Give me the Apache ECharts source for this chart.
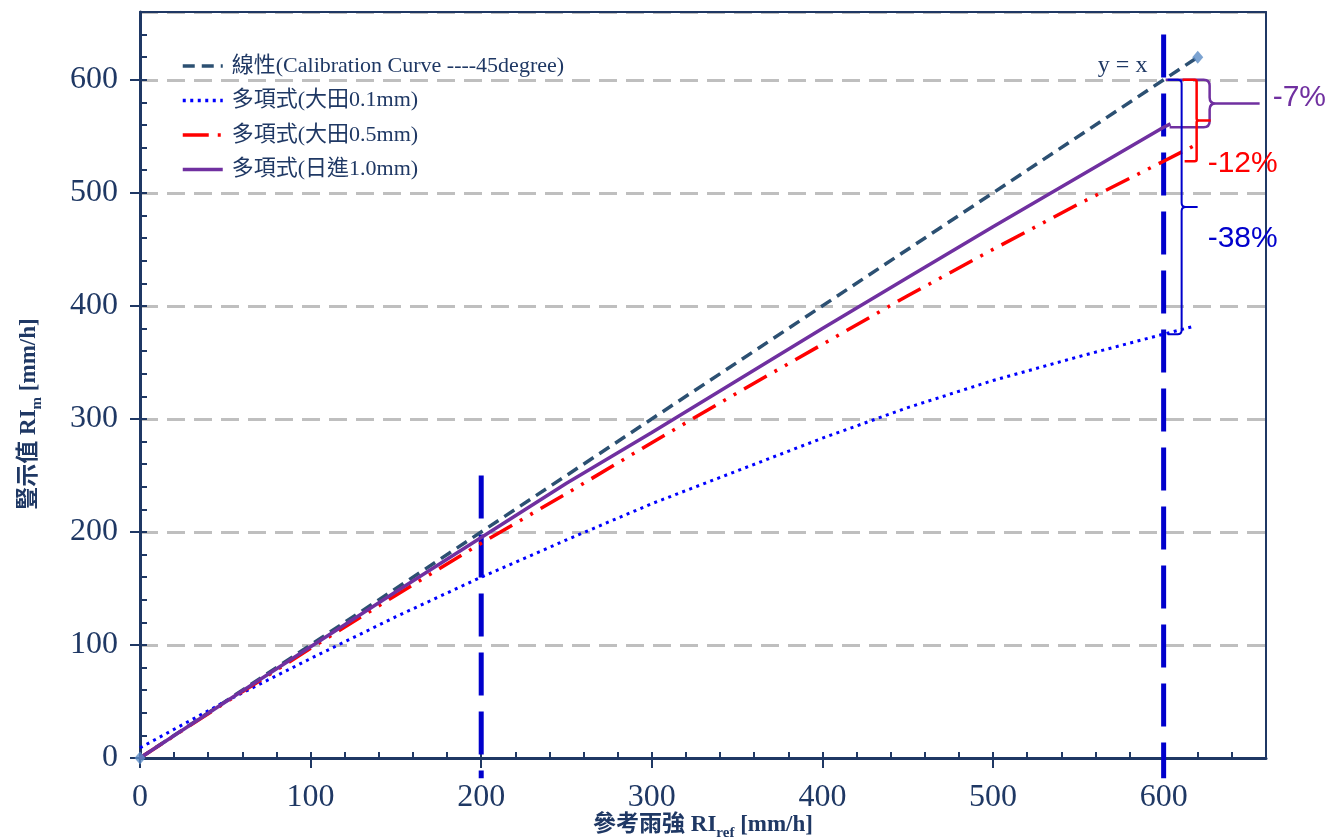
<!DOCTYPE html>
<html>
<head>
<meta charset="utf-8">
<script src="https://cdn.jsdelivr.net/npm/echarts@6/dist/echarts.min.js"></script>
<style>
html,body{margin:0;padding:0;background:#fff;}
#chart{width:1328px;height:837px;}
</style>
</head>
<body>
<div id="chart"></div>
<script>
// ---- data ----
const seriesNames = [
  '線性(Calibration Curve ----45degree)',
  '多項式(大田0.1mm)',
  '多項式(大田0.5mm)',
  '多項式(日進1.0mm)'
];
const calibX = [0, 620];
const calibY = [0, 620];
const ohta01X = [0, 50, 100, 150, 200, 250, 300, 350, 400, 450, 500, 550, 600, 618];
const ohta01Y = [9, 50, 88, 125, 160, 193, 225, 254, 283, 310, 334, 355, 375, 382];
const ohta05X = [0, 50, 100, 150, 200, 250, 300, 350, 400, 450, 500, 550, 600, 617];
const ohta05Y = [0, 49, 97, 144, 190, 234, 279, 323, 366, 409, 450, 490, 528, 541];
const nisshinX = [0, 50, 100, 150, 200, 250, 300, 350, 400, 450, 500, 550, 600, 604];
const nisshinY = [0, 49.5, 98.5, 147, 195, 243, 288, 334, 380, 425, 470, 514, 558, 561];
const refLineX = [200, 600];          // vertical reference lines
const refLineTop = [250, 640];
const refLineBottom = -18;
const bracketX = 600;
const bracketTop = 600;
const bracketBottom = [558, 528, 375];
const bracketLabel = ['-7%', '-12%', '-38%'];
const axisMax = 660;

// ---- styles ----
const navy = '#1f3864';
const serif = '"Liberation Serif", "Times New Roman", "Noto Sans CJK TC", serif';
const sans = '"Liberation Sans", Arial, sans-serif';
const braceStyle = [
  {color: '#7030a0', a1: 2, a2: 6, vx: 46, tip: 96, r: 6, lw: 2.5, tx: 109, tyRef: 'mid', tdy: -6},
  {color: '#ff0000', a1: 19, a2: 21, vx: 33, tip: 47, r: 2, lw: 2.5, tx: 44, tyRef: 'bot', tdy: 3},
  {color: '#0000cc', a1: 4, a2: 4, vx: 18, tip: 34, r: 4, lw: 2, tx: 44, tyRef: 'mid', tdy: 32}
];

function zip(xs, ys) { return xs.map((x, i) => [x, ys[i]]); }

const chart = echarts.init(document.getElementById('chart'), null, {renderer: 'canvas'});

const baseAxis = {
  type: 'value', min: 0, max: axisMax, interval: 100
};
const nameRich = {
  a: {fontFamily: serif, fontSize: 23, fontWeight: 'bold', color: navy, verticalAlign: 'bottom'},
  s: {fontFamily: serif, fontSize: 15, fontWeight: 'bold', color: navy, verticalAlign: 'bottom', padding: [0, 0, -4, 0]}
};

const option = {
  backgroundColor: '#fff',
  animation: false,
  grid: {left: 140, right: 62, top: 12, bottom: 79, containLabel: false, outerBoundsMode: 'none'},
  legend: {
    orient: 'vertical', left: 181, top: 55, padding: 0,
    itemWidth: 40, itemHeight: 14, itemGap: 12.5,
    data: seriesNames,
    itemStyle: {color: 'rgba(0,0,0,0)', borderWidth: 0, opacity: 0},
    lineStyle: {width: 3.5},
    textStyle: {color: navy, fontFamily: serif, fontSize: 22, lineHeight: 22, padding: [0, 0, 0, 4]}
  },
  xAxis: [
    Object.assign({}, baseAxis, {
      position: 'bottom',
      name: '{a|參考雨強 RI}{s|ref}{a| [mm/h]}',
      nameLocation: 'middle', nameGap: 56, nameMoveOverlap: false,
      nameTextStyle: {rich: nameRich},
      axisLine: {show: true, onZero: false, lineStyle: {color: navy, width: 3}},
      axisTick: {show: true, inside: false, length: 10, lineStyle: {color: navy, width: 2}},
      axisLabel: {color: navy, fontFamily: serif, fontSize: 32, margin: 24, showMaxLabel: false},
      splitLine: {show: false}
    }),
    Object.assign({}, baseAxis, {
      position: 'bottom',
      axisLine: {show: false},
      axisTick: {show: true, inside: true, length: 6, lineStyle: {color: navy, width: 2}},
      minorTick: {show: true, splitNumber: 5, length: 6, lineStyle: {color: navy, width: 2}},
      axisLabel: {show: false},
      splitLine: {show: false}
    }),
    Object.assign({}, baseAxis, {
      position: 'top', z: 5,
      axisLine: {show: true, onZero: false, lineStyle: {color: navy, width: 2}},
      axisTick: {show: false}, axisLabel: {show: false}, splitLine: {show: false}
    })
  ],
  yAxis: [
    Object.assign({}, baseAxis, {
      position: 'left',
      name: '{a|豎示值 RI}{s|m}{a| [mm/h]}',
      nameLocation: 'middle', nameGap: 99, nameRotate: 90, nameMoveOverlap: false,
      nameTextStyle: {rich: nameRich, padding: [0, 58, 0, 0]},
      axisLine: {show: true, onZero: false, lineStyle: {color: navy, width: 3}},
      axisTick: {show: true, inside: false, length: 10, lineStyle: {color: navy, width: 2}},
      axisLabel: {color: navy, fontFamily: serif, fontSize: 32, margin: 22, showMaxLabel: false},
      splitLine: {show: true, lineStyle: {color: '#bfbfbf', width: 3, type: [18, 9]}}
    }),
    Object.assign({}, baseAxis, {
      position: 'left',
      axisLine: {show: false},
      axisTick: {show: true, inside: true, length: 7, lineStyle: {color: navy, width: 2}},
      minorTick: {show: true, splitNumber: 5, length: 7, lineStyle: {color: navy, width: 2}},
      axisLabel: {show: false},
      splitLine: {show: false}
    }),
    Object.assign({}, baseAxis, {
      position: 'right', z: 5,
      axisLine: {show: true, onZero: false, lineStyle: {color: navy, width: 2}},
      axisTick: {show: false}, axisLabel: {show: false}, splitLine: {show: false}
    })
  ],
  series: [
    // vertical blue dashed reference lines
    ...refLineX.map((x, i) => ({
      type: 'line', xAxisIndex: 0, yAxisIndex: 0, clip: false, silent: true,
      symbol: 'none', z: 1,
      data: [[x, refLineTop[i]], [x, refLineBottom]],
      lineStyle: {color: '#0000cc', width: 5, type: [43, 16], cap: 'butt'}
    })),
    {
      name: seriesNames[0], type: 'line', xAxisIndex: 0, yAxisIndex: 0,
      symbol: 'none', z: 3,
      data: zip(calibX, calibY),
      lineStyle: {color: '#2c5072', width: 3.5, type: [12, 7]},
      itemStyle: {color: '#2c5072'},
      markPoint: {
        symbol: 'circle', symbolSize: 0, silent: true,
        data: [{coord: [bracketX, bracketTop]}],
        label: {show: true, formatter: 'y = x', offset: [-41, -14], color: navy,
          fontFamily: serif, fontSize: 24}
      }
    },
    {
      name: seriesNames[1], type: 'line', xAxisIndex: 0, yAxisIndex: 0,
      symbol: 'none', z: 3,
      data: zip(ohta01X, ohta01Y),
      lineStyle: {color: '#0000ff', width: 3, type: [3, 4.5]},
      itemStyle: {color: '#0000ff'}
    },
    {
      name: seriesNames[2], type: 'line', xAxisIndex: 0, yAxisIndex: 0,
      symbol: 'none', z: 3,
      data: zip(ohta05X, ohta05Y),
      lineStyle: {color: '#ff0000', width: 3.5, type: [26, 9, 3, 9, 3, 9]},
      itemStyle: {color: '#ff0000'}
    },
    {
      name: seriesNames[3], type: 'line', xAxisIndex: 0, yAxisIndex: 0,
      symbol: 'none', z: 3,
      data: zip(nisshinX, nisshinY),
      lineStyle: {color: '#7030a0', width: 3.5},
      itemStyle: {color: '#7030a0'}
    },
    // end-point diamonds of the calibration line
    {
      type: 'scatter', xAxisIndex: 0, yAxisIndex: 0, clip: false, silent: true,
      symbol: 'diamond', symbolSize: [11, 13], z: 4,
      data: zip(calibX, calibY),
      itemStyle: {color: '#5b8cc6'}
    },
    // brackets
    {
      type: 'custom', xAxisIndex: 0, yAxisIndex: 0, clip: false, silent: true, z: 6,
      data: bracketBottom.map((b, i) => [bracketX, bracketTop, b, i]),
      renderItem: function (params, api) {
        const i = api.value(3);
        const st = braceStyle[i];
        const pT = api.coord([api.value(0), api.value(1)]);
        const pB = api.coord([api.value(0), api.value(2)]);
        const x0 = pT[0], yT = pT[1], yB = pB[1];
        const yM = (yT + yB) / 2;
        const xv = x0 + st.vx, r = st.r;
        const d = [
          'M', x0 + st.a1, yT, 'L', xv - r, yT, 'Q', xv, yT, xv, yT + r,
          'L', xv, yM - r, 'Q', xv, yM, xv + r, yM, 'L', x0 + st.tip, yM,
          'M', xv + r, yM, 'Q', xv, yM, xv, yM + r,
          'L', xv, yB - r, 'Q', xv, yB, xv - r, yB, 'L', x0 + st.a2, yB
        ].join(' ');
        const ty = (st.tyRef === 'mid' ? yM : yB) + st.tdy;
        return {
          type: 'group',
          children: [
            {type: 'path', shape: {pathData: d},
              style: {fill: null, stroke: st.color, lineWidth: st.lw}},
            {type: 'text', x: x0 + st.tx, y: ty,
              style: {text: bracketLabel[i], fill: st.color, font: '30px ' + sans,
                textAlign: 'left', textVerticalAlign: 'middle'}}
          ]
        };
      }
    }
  ]
};

chart.setOption(option);
</script>
</body>
</html>
